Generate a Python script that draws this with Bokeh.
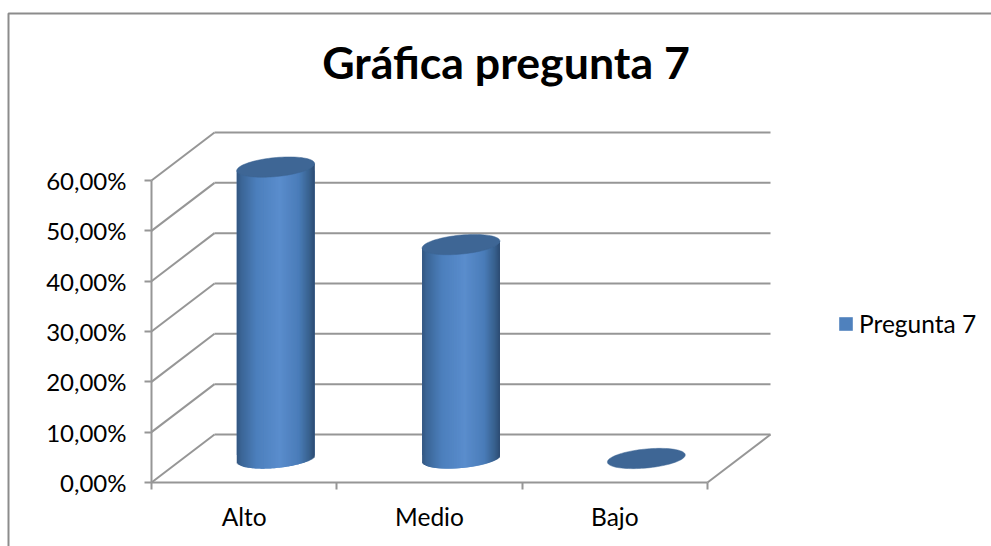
from bokeh.plotting import figure
from bokeh.models import Range1d, FixedTicker, Legend, LegendItem, Label
from bokeh.embed import file_html
from bokeh.resources import INLINE
import numpy as np

categories = ["Alto", "Medio", "Bajo"]
values = [57.9, 42.5, 0.0]
y_ticks = [0, 10, 20, 30, 40, 50, 60]
y_labels = ["0,00%", "10,00%", "20,00%", "30,00%", "40,00%", "50,00%", "60,00%"]
title_text = "Gráfica pregunta 7"
series_name = "Pregunta 7"

GREY = "#969696"
FONT = "Lato"
PX_X, PX_Y = 185.33, 5.033   # pixels per data unit
ORIGIN_X, ORIGIN_Y = 151, 482  # picture position of the axes' origin
WIDTH, HEIGHT = 991, 546
DX, DY = 0.34, 9.54          # oblique depth offset, in data units
RX = 0.21                    # cylinder half width
B, S = 1.89, 0.70            # ellipse half height and tilt
STOPS_T = [0.0, 0.05, 0.25, 0.55, 0.80, 0.93, 1.0]
STOPS_C = [(0x33, 0x55, 0x7F), (0x3A, 0x64, 0x94), (0x4C, 0x7F, 0xBC), (0x5A, 0x8D, 0xCD),
           (0x4A, 0x7C, 0xB8), (0x38, 0x61, 0x8F), (0x2C, 0x4B, 0x72)]

def dx(px):
    return (px - ORIGIN_X) / PX_X

def dy(px):
    return (ORIGIN_Y - px) / PX_Y

p = figure(width=WIDTH, height=HEIGHT, output_backend="svg", toolbar_location=None,
           x_range=Range1d(dx(0), dx(WIDTH)), y_range=Range1d(dy(HEIGHT), dy(0)),
           min_border_left=0, min_border_right=0, min_border_top=0, min_border_bottom=0,
           background_fill_color="white", border_fill_color="white")
p.outline_line_color = None
p.grid.visible = False

# Chart title
p.add_layout(Label(x=dx(505.5), y=dy(61), text=title_text, text_align="center",
                   text_baseline="alphabetic", text_font=FONT, text_font_style="bold",
                   text_font_size="44.7px", text_color="black"))

yaxis = p.yaxis[0]
yaxis.fixed_location = 0
yaxis.ticker = FixedTicker(ticks=y_ticks)
yaxis.major_label_overrides = dict(zip(y_ticks, y_labels))
yaxis.bounds = (0, 60)
yaxis.axis_line_color = GREY
yaxis.axis_line_width = 2
yaxis.major_tick_line_color = GREY
yaxis.major_tick_line_width = 2
yaxis.major_tick_out = 7
yaxis.major_tick_in = 0
yaxis.minor_tick_line_color = None
yaxis.major_label_standoff = 18
yaxis.major_label_text_font = FONT
yaxis.major_label_text_font_size = "24px"
yaxis.major_label_text_color = "black"

centers = [i + 0.5 for i in range(len(categories))]
xaxis = p.xaxis[0]
xaxis.fixed_location = 0
xaxis.ticker = FixedTicker(ticks=centers, minor_ticks=list(range(len(categories) + 1)))
xaxis.major_label_overrides = dict(zip(centers, categories))
xaxis.bounds = (0, 3)
xaxis.axis_line_color = GREY
xaxis.axis_line_width = 2
xaxis.major_tick_line_color = None
xaxis.major_tick_out = 0
xaxis.major_tick_in = 0
xaxis.minor_tick_line_color = GREY
xaxis.minor_tick_line_width = 2
xaxis.minor_tick_out = 7
xaxis.minor_tick_in = 0
xaxis.major_label_standoff = 12
xaxis.major_label_text_font = FONT
xaxis.major_label_text_font_size = "24.5px"
xaxis.major_label_text_color = "black"

# Outer chart frame, cut off by the picture at right and bottom
p.line([dx(8), dx(8), dx(WIDTH)], [dy(HEIGHT), dy(13), dy(13)], line_color="#8c8c8c", line_width=2)

# Walls and floor of the oblique box
x0s = [DX] * len(y_ticks) + [0] * len(y_ticks) + [3]
y0s = [v + DY for v in y_ticks] + list(y_ticks) + [0]
x1s = [3 + DX] * len(y_ticks) + [DX] * len(y_ticks) + [3 + DX]
y1s = [v + DY for v in y_ticks] * 2 + [DY]
p.segment(x0s, y0s, x1s, y1s, line_color=GREY, line_width=2)

def gradient(t):
    return "#%02x%02x%02x" % tuple(int(round(np.interp(t, STOPS_T, [c[k] for c in STOPS_C]))) for k in range(3))

# Cylinder bodies
body_l, body_r, body_t, body_b = [], [], [], []
for c, v in zip(centers, values):
    if v > 0:
        body_l.append(c + DX / 2 - RX)
        body_r.append(c + DX / 2 + RX)
        body_t.append(v + DY / 2 - S)
        body_b.append(DY / 2 + S)
base = p.quad(left=body_l, right=body_r, top=body_t, bottom=body_b,
              fill_color="#4F81BD", line_color=None)

N = 80
sl, sr, st, sb, sc = [], [], [], [], []
for c, v in zip(centers, values):
    if v <= 0:
        continue
    cx = c + DX / 2
    for i in range(N):
        u0 = -1 + 2 * i / N
        u1 = min(1.0, -1 + 2 * (i + 2) / N)   # overlap the next strip to hide seams
        um = -1 + 2 * (i + 0.5) / N
        sl.append(cx + RX * u0)
        sr.append(cx + RX * u1)
        st.append(v + DY / 2 + S * um)
        # lower silhouette of the tilted base ellipse
        sb.append(DY / 2 - B * np.sqrt(max(0.0, 1 - um * um)) + S * um)
        sc.append(gradient((um + 1) / 2))
p.quad(left=sl, right=sr, top=st, bottom=sb, fill_color=sc, line_color=None)

# Top caps
t = np.linspace(0, 2 * np.pi, 90)
cap_x, cap_y = [], []
for c, v in zip(centers, values):
    cap_x.append(list(c + DX / 2 + RX * np.cos(t)))
    cap_y.append(list(v + DY / 2 + B * np.sin(t) + S * np.cos(t)))
p.patches(cap_x, cap_y, fill_color="#3E6695", line_color="#3E6695", line_width=0.5)

# Legend
legend = Legend(items=[LegendItem(label=series_name, renderers=[base])],
                location=(837, 208), orientation="vertical",
                border_line_color=None, background_fill_alpha=0,
                glyph_width=17, glyph_height=17, label_standoff=5, padding=0, margin=0,
                label_text_font=FONT, label_text_font_size="24.5px", label_text_color="black")
p.add_layout(legend, "center")

open("out.html", "w").write(file_html(p, INLINE))
